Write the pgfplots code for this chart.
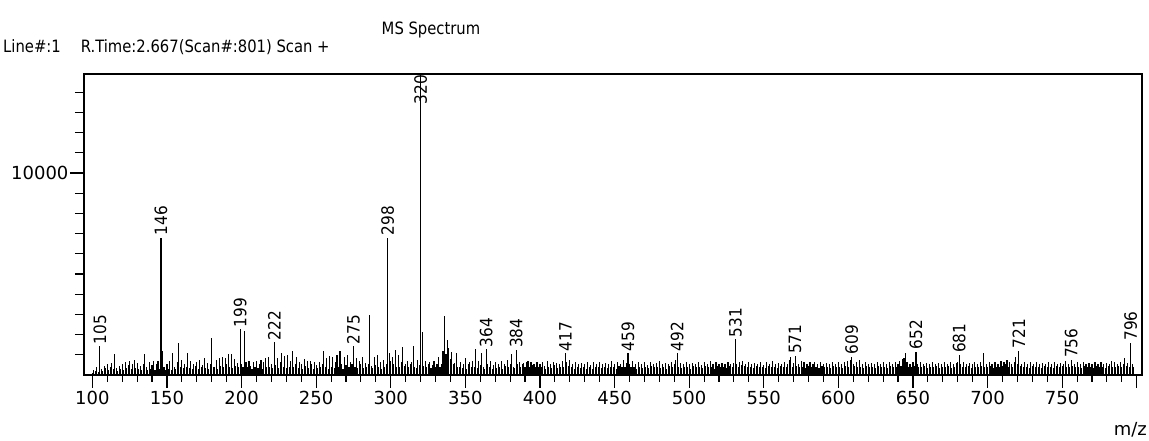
\documentclass[border=0pt]{standalone}
\usepackage{fontspec}
\usepackage{pgfplots}
\pgfplotsset{compat=1.18}
\usepackage{pgfplotstable}
\setmainfont{DejaVu Sans}
\newfontfamily\hdr{DejaVu Sans}[FakeStretch=0.87]
\newfontfamily\lab{DejaVu Sans}[FakeStretch=0.9]

\pgfplotstableread[row sep=\\]{
x y\\
100 120\\ 101 250\\ 102 180\\ 103 420\\ 104 150\\ 105 1420\\ 106 300\\ 107 210\\ 108 460\\ 109 330\\
110 520\\ 111 240\\ 112 380\\ 113 610\\ 114 280\\ 115 1040\\ 116 350\\ 117 190\\ 118 450\\ 119 300\\
120 560\\ 121 260\\ 122 640\\ 123 330\\ 124 480\\ 125 700\\ 126 290\\ 127 520\\ 128 760\\ 129 350\\
130 600\\ 131 280\\ 132 450\\ 133 230\\ 134 520\\ 135 1040\\ 136 380\\ 137 270\\ 138 620\\ 139 310\\
140 480\\ 141 700\\ 142 260\\ 143 550\\ 144 680\\ 145 320\\ 146 6800\\ 147 1200\\ 148 420\\ 149 260\\
150 560\\ 151 300\\ 152 680\\ 153 240\\ 154 1080\\ 155 380\\ 156 290\\ 157 620\\ 158 1570\\ 159 410\\
160 760\\ 161 330\\ 162 540\\ 163 420\\ 164 1080\\ 165 360\\ 166 700\\ 167 280\\ 168 560\\ 169 430\\
170 650\\ 171 300\\ 172 720\\ 173 380\\ 174 480\\ 175 820\\ 176 350\\ 177 600\\ 178 290\\ 179 540\\
180 1830\\ 181 420\\ 182 380\\ 183 760\\ 184 310\\ 185 850\\ 186 460\\ 187 900\\ 188 380\\ 189 820\\
190 560\\ 191 1040\\ 192 400\\ 193 1050\\ 194 330\\ 195 780\\ 196 450\\ 197 600\\ 198 380\\ 199 2260\\
200 560\\ 201 420\\ 202 2200\\ 203 650\\ 204 380\\ 205 700\\ 206 450\\ 207 320\\ 208 620\\ 209 380\\
210 700\\ 211 340\\ 212 560\\ 213 720\\ 214 300\\ 215 650\\ 216 840\\ 217 420\\ 218 900\\ 219 380\\
220 560\\ 221 330\\ 222 1610\\ 223 480\\ 224 850\\ 225 360\\ 226 620\\ 227 1080\\ 228 400\\ 229 950\\
230 340\\ 231 1000\\ 232 420\\ 233 700\\ 234 1200\\ 235 380\\ 236 560\\ 237 900\\ 238 330\\ 239 640\\
240 520\\ 241 300\\ 242 780\\ 243 440\\ 244 700\\ 245 360\\ 246 680\\ 247 520\\ 248 300\\ 249 620\\
250 480\\ 251 350\\ 252 640\\ 253 420\\ 254 560\\ 255 1200\\ 256 380\\ 257 820\\ 258 300\\ 259 950\\
260 410\\ 261 880\\ 262 350\\ 263 640\\ 264 1000\\ 265 400\\ 266 1200\\ 267 560\\ 268 320\\ 269 900\\
270 480\\ 271 1000\\ 272 380\\ 273 650\\ 274 520\\ 275 1420\\ 276 420\\ 277 820\\ 278 350\\ 279 700\\
280 560\\ 281 880\\ 282 360\\ 283 600\\ 284 420\\ 285 540\\ 286 2950\\ 287 430\\ 288 360\\ 289 880\\
290 500\\ 291 1000\\ 292 380\\ 293 640\\ 294 300\\ 295 760\\ 296 420\\ 297 560\\ 298 6800\\ 299 1100\\
300 700\\ 301 900\\ 302 520\\ 303 1250\\ 304 420\\ 305 1000\\ 306 380\\ 307 640\\ 308 1400\\ 309 450\\
310 560\\ 311 700\\ 312 380\\ 313 520\\ 314 620\\ 315 1430\\ 316 420\\ 317 360\\ 318 750\\ 319 500\\
320 14900\\ 321 2150\\ 322 450\\ 323 700\\ 324 380\\ 325 560\\ 326 650\\ 327 330\\ 328 480\\ 329 700\\
330 420\\ 331 560\\ 332 900\\ 333 380\\ 334 520\\ 335 1200\\ 336 2920\\ 337 1050\\ 338 1750\\ 339 1320\\
340 800\\ 341 1150\\ 342 520\\ 343 600\\ 344 1070\\ 345 420\\ 346 380\\ 347 650\\ 348 330\\ 349 560\\
350 820\\ 351 300\\ 352 520\\ 353 640\\ 354 380\\ 355 700\\ 356 420\\ 357 1270\\ 358 350\\ 359 700\\
360 500\\ 361 1070\\ 362 420\\ 363 320\\ 364 1270\\ 365 560\\ 366 380\\ 367 700\\ 368 300\\ 369 480\\
370 620\\ 371 350\\ 372 560\\ 373 420\\ 374 700\\ 375 300\\ 376 520\\ 377 450\\ 378 750\\ 379 380\\
380 560\\ 381 1040\\ 382 400\\ 383 330\\ 384 1240\\ 385 520\\ 386 650\\ 387 380\\ 388 560\\ 389 600\\
390 420\\ 391 650\\ 392 700\\ 393 380\\ 394 620\\ 395 500\\ 396 560\\ 397 380\\ 398 650\\ 399 420\\
400 560\\ 401 380\\ 402 620\\ 403 450\\ 404 300\\ 405 700\\ 406 420\\ 407 560\\ 408 350\\ 409 640\\
410 480\\ 411 600\\ 412 330\\ 413 560\\ 414 420\\ 415 700\\ 416 380\\ 417 1070\\ 418 620\\ 419 450\\
420 720\\ 421 380\\ 422 560\\ 423 300\\ 424 620\\ 425 420\\ 426 520\\ 427 350\\ 428 600\\ 429 400\\
430 560\\ 431 320\\ 432 640\\ 433 420\\ 434 500\\ 435 300\\ 436 620\\ 437 380\\ 438 560\\ 439 420\\
440 650\\ 441 350\\ 442 520\\ 443 400\\ 444 600\\ 445 330\\ 446 560\\ 447 420\\ 448 700\\ 449 380\\
450 520\\ 451 300\\ 452 640\\ 453 450\\ 454 560\\ 455 380\\ 456 750\\ 457 420\\ 458 600\\ 459 1070\\
460 560\\ 461 380\\ 462 700\\ 463 420\\ 464 520\\ 465 300\\ 466 650\\ 467 400\\ 468 560\\ 469 350\\
470 620\\ 471 420\\ 472 500\\ 473 330\\ 474 640\\ 475 450\\ 476 560\\ 477 380\\ 478 600\\ 479 420\\
480 700\\ 481 350\\ 482 520\\ 483 420\\ 484 600\\ 485 300\\ 486 560\\ 487 450\\ 488 620\\ 489 380\\
490 520\\ 491 750\\ 492 1070\\ 493 420\\ 494 600\\ 495 350\\ 496 560\\ 497 420\\ 498 650\\ 499 380\\
500 520\\ 501 300\\ 502 600\\ 503 450\\ 504 560\\ 505 380\\ 506 640\\ 507 420\\ 508 500\\ 509 330\\
510 620\\ 511 450\\ 512 560\\ 513 380\\ 514 700\\ 515 420\\ 516 520\\ 517 300\\ 518 640\\ 519 450\\
520 560\\ 521 380\\ 522 600\\ 523 420\\ 524 520\\ 525 330\\ 526 650\\ 527 450\\ 528 560\\ 529 380\\
530 600\\ 531 1770\\ 532 520\\ 533 420\\ 534 640\\ 535 480\\ 536 700\\ 537 450\\ 538 560\\ 539 380\\
540 620\\ 541 420\\ 542 520\\ 543 350\\ 544 600\\ 545 450\\ 546 560\\ 547 380\\ 548 640\\ 549 420\\
550 500\\ 551 330\\ 552 620\\ 553 450\\ 554 560\\ 555 380\\ 556 700\\ 557 420\\ 558 520\\ 559 350\\
560 600\\ 561 450\\ 562 560\\ 563 380\\ 564 640\\ 565 420\\ 566 520\\ 567 750\\ 568 910\\ 569 420\\
570 600\\ 571 940\\ 572 450\\ 573 560\\ 574 380\\ 575 700\\ 576 420\\ 577 620\\ 578 350\\ 579 560\\
580 450\\ 581 650\\ 582 380\\ 583 520\\ 584 620\\ 585 420\\ 586 560\\ 587 330\\ 588 640\\ 589 450\\
590 520\\ 591 380\\ 592 600\\ 593 420\\ 594 560\\ 595 350\\ 596 650\\ 597 450\\ 598 520\\ 599 380\\
600 640\\ 601 420\\ 602 560\\ 603 330\\ 604 620\\ 605 450\\ 606 700\\ 607 420\\ 608 750\\ 609 910\\
610 560\\ 611 450\\ 612 640\\ 613 380\\ 614 720\\ 615 420\\ 616 560\\ 617 350\\ 618 620\\ 619 450\\
620 520\\ 621 380\\ 622 600\\ 623 420\\ 624 560\\ 625 330\\ 626 640\\ 627 450\\ 628 520\\ 629 380\\
630 620\\ 631 420\\ 632 560\\ 633 350\\ 634 640\\ 635 450\\ 636 520\\ 637 380\\ 638 620\\ 639 420\\
640 560\\ 641 700\\ 642 450\\ 643 780\\ 644 830\\ 645 1070\\ 646 620\\ 647 420\\ 648 560\\ 649 380\\
650 640\\ 651 450\\ 652 1160\\ 653 520\\ 654 420\\ 655 640\\ 656 380\\ 657 560\\ 658 450\\ 659 600\\
660 350\\ 661 560\\ 662 420\\ 663 640\\ 664 380\\ 665 520\\ 666 450\\ 667 600\\ 668 330\\ 669 560\\
670 420\\ 671 620\\ 672 380\\ 673 560\\ 674 450\\ 675 640\\ 676 350\\ 677 520\\ 678 420\\ 679 600\\
680 650\\ 681 990\\ 682 520\\ 683 420\\ 684 640\\ 685 380\\ 686 560\\ 687 450\\ 688 600\\ 689 350\\
690 520\\ 691 640\\ 692 420\\ 693 560\\ 694 380\\ 695 620\\ 696 450\\ 697 1070\\ 698 420\\ 699 560\\
700 380\\ 701 620\\ 702 450\\ 703 520\\ 704 350\\ 705 640\\ 706 420\\ 707 560\\ 708 380\\ 709 700\\
710 450\\ 711 620\\ 712 520\\ 713 750\\ 714 420\\ 715 640\\ 716 560\\ 717 380\\ 718 620\\ 719 910\\
720 520\\ 721 1210\\ 722 450\\ 723 560\\ 724 380\\ 725 640\\ 726 420\\ 727 560\\ 728 350\\ 729 620\\
730 450\\ 731 560\\ 732 380\\ 733 640\\ 734 420\\ 735 520\\ 736 350\\ 737 600\\ 738 450\\ 739 560\\
740 380\\ 741 620\\ 742 420\\ 743 520\\ 744 350\\ 745 640\\ 746 450\\ 747 560\\ 748 380\\ 749 600\\
750 450\\ 751 520\\ 752 680\\ 753 420\\ 754 560\\ 755 380\\ 756 740\\ 757 450\\ 758 560\\ 759 380\\
760 620\\ 761 420\\ 762 520\\ 763 350\\ 764 640\\ 765 450\\ 766 560\\ 767 380\\ 768 600\\ 769 420\\
770 520\\ 771 350\\ 772 640\\ 773 450\\ 774 560\\ 775 380\\ 776 620\\ 777 420\\ 778 520\\ 779 350\\
780 600\\ 781 450\\ 782 560\\ 783 700\\ 784 420\\ 785 620\\ 786 380\\ 787 560\\ 788 450\\ 789 640\\
790 420\\ 791 560\\ 792 830\\ 793 450\\ 794 600\\ 795 420\\ 796 1600\\ 797 520\\ 798 380\\
}\spec

\pgfplotstableread{
x y lab
105 1420 105
146 6800 146
199 2260 199
222 1610 222
275 1420 275
298 6800 298
364 1270 364
384 1240 384
417 1070 417
459 1070 459
492 1070 492
531 1770 531
571 940 571
609 910 609
652 1160 652
681 990 681
721 1210 721
756 740 756
796 1600 796
}\peaks

\begin{document}
\begin{tikzpicture}
\useasboundingbox (0,0) rectangle (1149pt,441pt);
\begin{axis}[
  at={(84pt,66pt)}, anchor=south west,
  scale only axis, width=1058pt, height=301pt,
  xmin=94.4, xmax=803.5, ymin=0, ymax=14900,
  xtick={100,150,...,800},
  xticklabels={100,150,200,250,300,350,400,450,500,550,600,650,700,750,{}},
  minor xtick={110,120,...,790},
  ytick={1000,2000,...,14000},
  yticklabels={,,,,,,,,,10000,,,,},
  scaled y ticks=false,
  tick align=outside, tick pos=left,
  major tick length=9pt, minor tick length=7pt,
  every tick/.style={black, line width=1.1pt},
  extra x ticks={100,150,...,800},
  extra x tick labels={},
  extra x tick style={major tick length=13pt},
  extra y ticks={10000},
  extra y tick labels={},
  extra y tick style={major tick length=14pt},
  axis line style={black, line width=1.3pt},
  /pgf/number format/assume math mode=true,
  /pgf/number format/1000 sep={},
  tick label style={font=\fontsize{18}{20}\selectfont},
  yticklabel style={xshift=-3pt},
  xticklabel style={yshift=-4pt},
  clip=false,
]
\addplot[ycomb, black, line width=1.1pt, mark=none] table[x=x, y=y] {\spec};
\addplot[draw=none, mark=none, nodes near coords, point meta=explicit symbolic,
  nodes near coords style={rotate=90, anchor=west, inner sep=2pt, font=\lab\fontsize{17}{20}\selectfont, black}]
  table[x=x, y=y, meta=lab] {\peaks};
\node[rotate=90, anchor=east, inner sep=1pt, font=\lab\fontsize{17}{20}\selectfont] at (axis cs:320,14900) {320};
\end{axis}
\node[anchor=base, inner sep=0pt, font=\hdr\fontsize{17}{20}\selectfont] at (431pt,406.5pt) {MS Spectrum};
\node[anchor=base west, inner sep=0pt, font=\hdr\fontsize{17}{20}\selectfont] at (3pt,388.5pt) {Line\#:1\hspace{20pt}R.Time:2.667(Scan\#:801) Scan +};
\node[anchor=base east, inner sep=0pt, font=\fontsize{18}{20}\selectfont] at (1147pt,5pt) {m/z};
\end{tikzpicture}
\end{document}
